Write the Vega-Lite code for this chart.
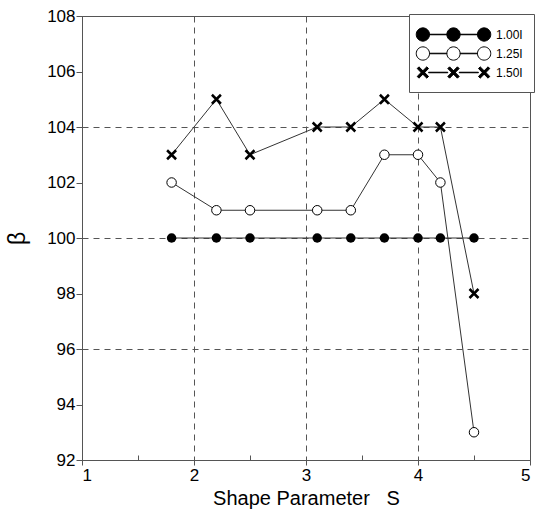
{
  "$schema": "https://vega.github.io/schema/vega-lite/v6.json",
  "width": 448,
  "height": 444,
  "autosize": "none",
  "padding": {"left": 82, "top": 16, "right": 9, "bottom": 53},
  "background": "white",
  "config": {
    "font": "Liberation Sans",
    "view": {"stroke": "#555", "strokeWidth": 1},
    "axis": {"labelColor": "black", "titleColor": "black", "tickColor": "#555", "domainColor": "#555", "labelFont": "Liberation Sans", "titleFont": "Liberation Sans", "titleFontWeight": "normal"}
  },
  "data": {
    "values": [
      {"S": 1.8, "beta": 100, "series": "1.00I"},
      {"S": 2.2, "beta": 100, "series": "1.00I"},
      {"S": 2.5, "beta": 100, "series": "1.00I"},
      {"S": 3.1, "beta": 100, "series": "1.00I"},
      {"S": 3.4, "beta": 100, "series": "1.00I"},
      {"S": 3.7, "beta": 100, "series": "1.00I"},
      {"S": 4.0, "beta": 100, "series": "1.00I"},
      {"S": 4.2, "beta": 100, "series": "1.00I"},
      {"S": 4.5, "beta": 100, "series": "1.00I"},
      {"S": 1.8, "beta": 102, "series": "1.25I"},
      {"S": 2.2, "beta": 101, "series": "1.25I"},
      {"S": 2.5, "beta": 101, "series": "1.25I"},
      {"S": 3.1, "beta": 101, "series": "1.25I"},
      {"S": 3.4, "beta": 101, "series": "1.25I"},
      {"S": 3.7, "beta": 103, "series": "1.25I"},
      {"S": 4.0, "beta": 103, "series": "1.25I"},
      {"S": 4.2, "beta": 102, "series": "1.25I"},
      {"S": 4.5, "beta": 93, "series": "1.25I"},
      {"S": 1.8, "beta": 103, "series": "1.50I"},
      {"S": 2.2, "beta": 105, "series": "1.50I"},
      {"S": 2.5, "beta": 103, "series": "1.50I"},
      {"S": 3.1, "beta": 104, "series": "1.50I"},
      {"S": 3.4, "beta": 104, "series": "1.50I"},
      {"S": 3.7, "beta": 105, "series": "1.50I"},
      {"S": 4.0, "beta": 104, "series": "1.50I"},
      {"S": 4.2, "beta": 104, "series": "1.50I"},
      {"S": 4.5, "beta": 98, "series": "1.50I"}
    ]
  },
  "resolve": {"axis": {"x": "independent", "y": "independent"}},
  "layer": [
    {
      "mark": {"type": "line", "color": "#333", "strokeWidth": 1},
      "encoding": {
        "x": {"field": "S", "type": "quantitative", "scale": {"domain": [1, 5], "nice": false, "zero": false},
          "axis": {"orient": "bottom", "values": [1, 2, 3, 4, 5], "grid": true, "gridDash": [6, 5], "gridColor": "#555", "gridOpacity": 1, "labels": false, "ticks": false, "domain": false, "title": null}},
        "y": {"field": "beta", "type": "quantitative", "scale": {"domain": [92, 108], "nice": false, "zero": false},
          "axis": {"orient": "left", "values": [92, 96, 100, 104, 108], "grid": true, "gridDash": [6, 5], "gridColor": "#555", "gridOpacity": 1, "labels": false, "ticks": false, "domain": false, "title": null}},
        "detail": {"field": "series"}
      }
    },
    {
      "transform": [{"filter": "datum.series == '1.00I'"}],
      "mark": {"type": "point", "shape": "circle", "filled": true, "color": "black", "size": 90, "opacity": 1},
      "encoding": {
        "x": {"field": "S", "type": "quantitative",
          "axis": {"orient": "bottom", "values": [1, 2, 3, 4, 5], "grid": false, "tickSize": 5, "labelFontSize": 17, "labelPadding": 2, "title": "Shape Parameter\u00a0\u00a0\u00a0S", "titleFontSize": 20, "titlePadding": 5}},
        "y": {"field": "beta", "type": "quantitative",
          "axis": {"orient": "left", "values": [92, 94, 96, 98, 100, 102, 104, 106, 108], "grid": false, "tickSize": 6, "labelFontSize": 17, "labelPadding": 1, "title": "β", "titleFontSize": 23, "titlePadding": 17}}
      }
    },
    {
      "transform": [{"filter": "datum.series == '1.25I'"}],
      "mark": {"type": "point", "shape": "circle", "filled": false, "fill": "white", "stroke": "black", "strokeWidth": 1, "size": 90, "opacity": 1},
      "encoding": {
        "x": {"field": "S", "type": "quantitative",
          "axis": {"orient": "bottom", "values": [1.5, 2.5, 3.5, 4.5], "grid": false, "tickSize": -5, "labels": false, "domain": false, "title": null}},
        "y": {"field": "beta", "type": "quantitative", "axis": null}
      }
    },
    {
      "transform": [{"filter": "datum.series == '1.50I'"}],
      "mark": {"type": "point", "shape": "M-1,-1L1,1M-1,1L1,-1", "filled": false, "stroke": "black", "strokeWidth": 2.5, "strokeCap": "butt", "size": 81, "opacity": 1},
      "encoding": {
        "x": {"field": "S", "type": "quantitative", "axis": null},
        "y": {"field": "beta", "type": "quantitative", "axis": null}
      }
    },
    {
      "transform": [{"filter": "datum.beta > 1000"}],
      "mark": {"type": "point", "filled": true, "strokeWidth": 1, "opacity": 1},
      "encoding": {
        "x": {"field": "S", "type": "quantitative", "axis": null},
        "y": {"field": "beta", "type": "quantitative", "axis": null},
        "shape": {"field": "series", "type": "nominal",
          "scale": {"domain": ["1.00I", "1.25I", "1.50I"],
            "range": [
              "M-3.5,-0.03H3.5V0.03H-3.5Z M-2.74,0A0.76,0.76 0 1,1 -4.26,0A0.76,0.76 0 1,1 -2.74,0Z M0.76,0A0.76,0.76 0 1,1 -0.76,0A0.76,0.76 0 1,1 0.76,0Z M4.26,0A0.76,0.76 0 1,1 2.74,0A0.76,0.76 0 1,1 4.26,0Z",
              "M-2.74,-0.03H-0.76V0.03H-2.74Z M0.76,-0.03H2.74V0.03H0.76Z M-2.74,0A0.76,0.76 0 1,1 -4.26,0A0.76,0.76 0 1,1 -2.74,0Z M0.76,0A0.76,0.76 0 1,1 -0.76,0A0.76,0.76 0 1,1 0.76,0Z M4.26,0A0.76,0.76 0 1,1 2.74,0A0.76,0.76 0 1,1 4.26,0Z",
              "M-2.85,-0.03H-0.65V0.03H-2.85Z M0.65,-0.03H2.85V0.03H0.65Z M-3.95,-0.65L-2.85,0.45L-3.05,0.65L-4.15,-0.45Z M-3.95,0.65L-4.15,0.45L-3.05,-0.65L-2.85,-0.45Z M-0.45,-0.65L0.65,0.45L0.45,0.65L-0.65,-0.45Z M-0.45,0.65L-0.65,0.45L0.45,-0.65L0.65,-0.45Z M3.05,-0.65L4.15,0.45L3.95,0.65L2.85,-0.45Z M3.05,0.65L2.85,0.45L3.95,-0.65L4.15,-0.45Z"
            ]},
          "legend": {"orient": "none", "legendX": 327, "legendY": -2, "title": null, "strokeColor": "#555", "fillColor": "white", "padding": 11, "symbolSize": 306, "labelFontSize": 12, "labelFont": "Liberation Sans", "labelColor": "black", "symbolOffset": 24, "labelOffset": 33, "rowPadding": -1.5, "symbolStrokeWidth": 1}},
        "fill": {"field": "series", "type": "nominal",
          "scale": {"domain": ["1.00I", "1.25I", "1.50I"], "range": ["black", "white", "black"]},
          "legend": {"orient": "none", "legendX": 327, "legendY": -2, "title": null}},
        "stroke": {"field": "series", "type": "nominal",
          "scale": {"domain": ["1.00I", "1.25I", "1.50I"], "range": ["black", "black", "black"]},
          "legend": {"orient": "none", "legendX": 327, "legendY": -2, "title": null}}
      }
    }
  ]
}
